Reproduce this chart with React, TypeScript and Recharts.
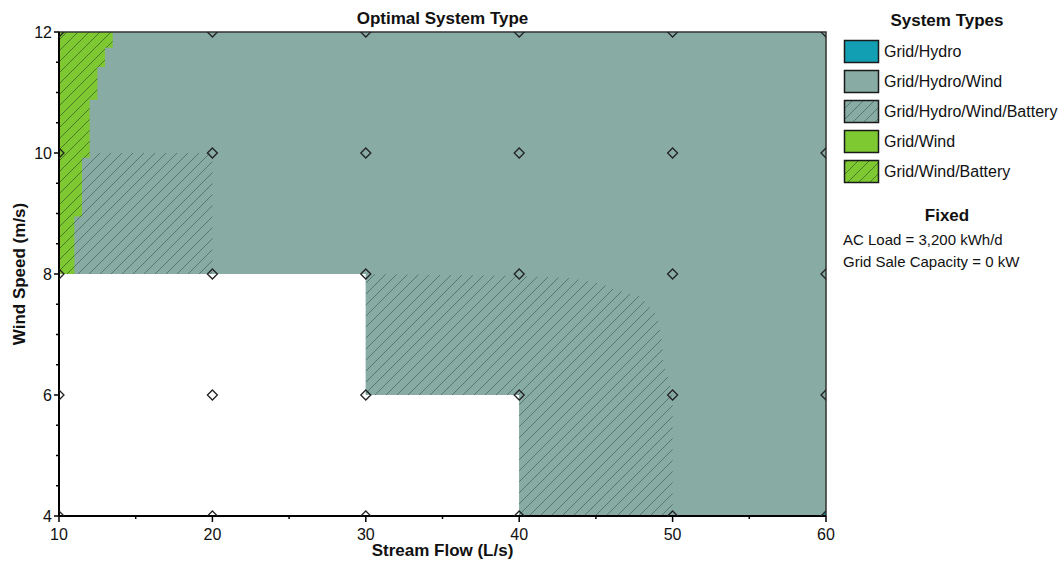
import React from "react";
import { ComposedChart, Area, Scatter, XAxis, YAxis, ReferenceArea } from "recharts";

// axis ticks
const FLOW_TICKS = [10, 20, 30, 40, 50, 60];
const FLOW_MINOR = [15, 25, 35, 45, 55];
const WIND_TICKS = [4, 6, 8, 10, 12];
const WIND_MINOR = [4.5, 5, 5.5, 6.5, 7, 7.5, 8.5, 9, 9.5, 10.5, 11, 11.5];

// sensitivity cases (stream flow L/s, wind speed m/s)
const CASE_FLOWS = [10, 20, 30, 40, 50, 60];
const CASE_WINDS = [4, 6, 8, 10, 12];

// region outlines: x = stream flow, v = [low, high] wind speed
const hydroWindRegion = [
  { x: 10, v: [8, 12] },
  { x: 30, v: [6, 12] },
  { x: 40, v: [4, 12] },
  { x: 60, v: [4, 12] },
];

const hydroWindBatteryLow = [
  { x: 10, v: [8, 10] },
  { x: 20, v: [8, 10] },
];

const hydroWindBatteryHigh = [
  { x: 30, v: [6, 8] },
  { x: 40, v: [6, 7.97] },
  { x: 40, v: [4, 7.97] },
  { x: 43.4, v: [4, 7.93] },
  { x: 45.4, v: [4, 7.84] },
  { x: 46, v: [4, 7.76] },
  { x: 47.1, v: [4, 7.68] },
  { x: 47.9, v: [4, 7.63] },
  { x: 48.5, v: [4, 7.45] },
  { x: 49, v: [4, 7.32] },
  { x: 49.3, v: [4, 6.9] },
  { x: 49.4, v: [4, 6.5] },
  { x: 49.7, v: [4, 6.3] },
  { x: 50, v: [4, 6] },
  { x: 50, v: [4, 4] },
];

const windBatteryRegion = [
  { x: 10, v: [8, 12] },
  { x: 11, v: [8.95, 12] },
  { x: 11.5, v: [9.92, 12] },
  { x: 12, v: [10.88, 12] },
  { x: 12.5, v: [11.42, 12] },
  { x: 13, v: [11.74, 12] },
  { x: 13.5, v: [11.74, 12] },
];

const hydroRegion = [
  { x: 59.7, v: [4, 4] },
  { x: 60, v: [4, 4.09] },
];

const SYSTEM_TYPES = ["Grid/Hydro", "Grid/Hydro/Wind", "Grid/Hydro/Wind/Battery", "Grid/Wind", "Grid/Wind/Battery"];
const FIXED_NOTES = ["AC Load = 3,200 kWh/d", "Grid Sale Capacity = 0 kW"];

const HYDRO = "#139fb3";
const TEAL = "#88aba3";
const TEAL_HATCH = "#587770";
const GREEN = "#7ec832";
const GREEN_HATCH = "#4a7a2a";
const INK = "#111";
const FONT = "'Liberation Sans', Arial, sans-serif";

// plot box inside the svg; markers on the border get cut to it
const PLOT = { left: 59, top: 32, width: 767, height: 484 };

const SWATCH_FILLS = [HYDRO, TEAL, "url(#lgTeal)", GREEN, "url(#lgGreen)"];

const cases = CASE_FLOWS.flatMap((x) => CASE_WINDS.map((y) => ({ x, y })));

const Hatch = ({ id, bg, line }: { id: string; bg: string; line: string }) => (
  <pattern id={id} patternUnits="userSpaceOnUse" width={11} height={11}>
    <rect width={11} height={11} fill={bg} />
    <path d="M-1,1 L1,-1 M0,11 L11,0 M10,12 L12,10" stroke={line} strokeWidth={1} />
  </pattern>
);

// open diamond, drawn inside a nested svg so it is cut at the plot edges
const Diamond = (p: any) => {
  const cx = p.cx - PLOT.left;
  const cy = p.cy - PLOT.top;
  const r = 5;
  return (
    <svg x={PLOT.left} y={PLOT.top} width={PLOT.width} height={PLOT.height} overflow="hidden">
      <path
        d={`M${cx},${cy - r} L${cx + r},${cy} L${cx},${cy + r} L${cx - r},${cy} Z`}
        fill="none"
        stroke="#222"
        strokeWidth={1.3}
      />
    </svg>
  );
};

const FlowTick = (p: any) => {
  const { x, y, payload } = p;
  const major = FLOW_TICKS.includes(payload.value);
  return (
    <g>
      <line x1={x} x2={x} y1={y} y2={y + (major ? 6 : 3)} stroke="#000" strokeWidth={1.5} />
      {major && (
        <text x={x} y={y + 24} textAnchor="middle" fontSize={16} fontFamily={FONT} fill={INK}>
          {payload.value}
        </text>
      )}
    </g>
  );
};

const WindTick = (p: any) => {
  const { x, y, payload } = p;
  const major = WIND_TICKS.includes(payload.value);
  return (
    <g>
      <line x1={x - (major ? 5 : 3)} x2={x} y1={y} y2={y} stroke="#000" strokeWidth={1.5} />
      {major && (
        <text x={x - 7} y={y + 6} textAnchor="end" fontSize={16} fontFamily={FONT} fill={INK}>
          {payload.value}
        </text>
      )}
    </g>
  );
};

const areaProps = {
  dataKey: "v",
  stroke: "none",
  fillOpacity: 1,
  dot: false,
  activeDot: false,
  isAnimationActive: false,
} as const;

const App = () => (
  <div
    style={{
      position: "absolute",
      left: 0,
      top: 0,
      width: 1064,
      height: 562,
      background: "#fff",
      fontFamily: FONT,
      color: INK,
    }}
  >
    <div
      style={{
        position: "absolute",
        left: 59,
        width: 767,
        top: 9,
        lineHeight: "20px",
        textAlign: "center",
        fontSize: 17,
        fontWeight: "bold",
      }}
    >
      Optimal System Type
    </div>

    <ComposedChart width={1064} height={562} margin={{ top: 32, right: 238, bottom: 0, left: 0 }}>
      <defs>
        <Hatch id="hatchTeal" bg={TEAL} line={TEAL_HATCH} />
        <Hatch id="hatchGreen" bg={GREEN} line={GREEN_HATCH} />
      </defs>

      <Area {...areaProps} data={hydroWindRegion} type="stepAfter" fill={TEAL} />
      <Area {...areaProps} data={hydroWindBatteryLow} type="linear" fill="url(#hatchTeal)" />
      <Area {...areaProps} data={hydroWindBatteryHigh} type="linear" fill="url(#hatchTeal)" />
      <Area {...areaProps} data={windBatteryRegion} type="stepAfter" fill="url(#hatchGreen)" />
      <Area {...areaProps} data={hydroRegion} type="linear" fill={HYDRO} />

      <Scatter data={cases} dataKey="y" shape={Diamond} isAnimationActive={false} />

      <ReferenceArea x1={10} x2={60} y1={4} y2={12} fill="none" stroke="#333" strokeWidth={1.5} />

      <XAxis
        type="number"
        dataKey="x"
        domain={[10, 60]}
        ticks={[...FLOW_TICKS, ...FLOW_MINOR]}
        interval={0}
        allowDataOverflow
        tickSize={0}
        tickMargin={0}
        tickLine={false}
        tick={FlowTick}
        axisLine={{ stroke: "#000", strokeWidth: 2 }}
        height={46}
        label={{
          value: "Stream Flow (L/s)",
          position: "insideBottom",
          offset: 6,
          style: { fontSize: 17, fontWeight: "bold", fill: INK, fontFamily: FONT },
        }}
      />
      <YAxis
        type="number"
        dataKey="y"
        domain={[4, 12]}
        ticks={[...WIND_TICKS, ...WIND_MINOR]}
        interval={0}
        allowDataOverflow
        tickSize={0}
        tickMargin={0}
        tickLine={false}
        tick={WindTick}
        axisLine={{ stroke: "#000", strokeWidth: 2 }}
        width={59}
        label={{
          value: "Wind Speed (m/s)",
          angle: -90,
          position: "insideLeft",
          offset: 19,
          style: { fontSize: 17, fontWeight: "bold", fill: INK, fontFamily: FONT, textAnchor: "middle" },
        }}
      />
    </ComposedChart>

    <svg width={221} height={280} style={{ position: "absolute", left: 843, top: 0 }}>
      <defs>
        <Hatch id="lgTeal" bg={TEAL} line={TEAL_HATCH} />
        <Hatch id="lgGreen" bg={GREEN} line={GREEN_HATCH} />
      </defs>
      <text x={104} y={26} textAnchor="middle" fontSize={17} fontWeight="bold" fill={INK} fontFamily={FONT}>
        System Types
      </text>
      {SYSTEM_TYPES.map((name, i) => (
        <g key={name}>
          <rect x={1.5} y={40.5 + i * 30} width={34} height={22} fill={SWATCH_FILLS[i]} stroke="#1a1a1a" strokeWidth={1.5} />
          <text x={41} y={57 + i * 30} fontSize={16} fill={INK} fontFamily={FONT}>
            {name}
          </text>
        </g>
      ))}
      <text x={104} y={221} textAnchor="middle" fontSize={17} fontWeight="bold" fill={INK} fontFamily={FONT}>
        Fixed
      </text>
      {FIXED_NOTES.map((note, i) => (
        <text key={note} x={0} y={245 + i * 22} fontSize={15} fill={INK} fontFamily={FONT}>
          {note}
        </text>
      ))}
    </svg>
  </div>
);

export default App;
